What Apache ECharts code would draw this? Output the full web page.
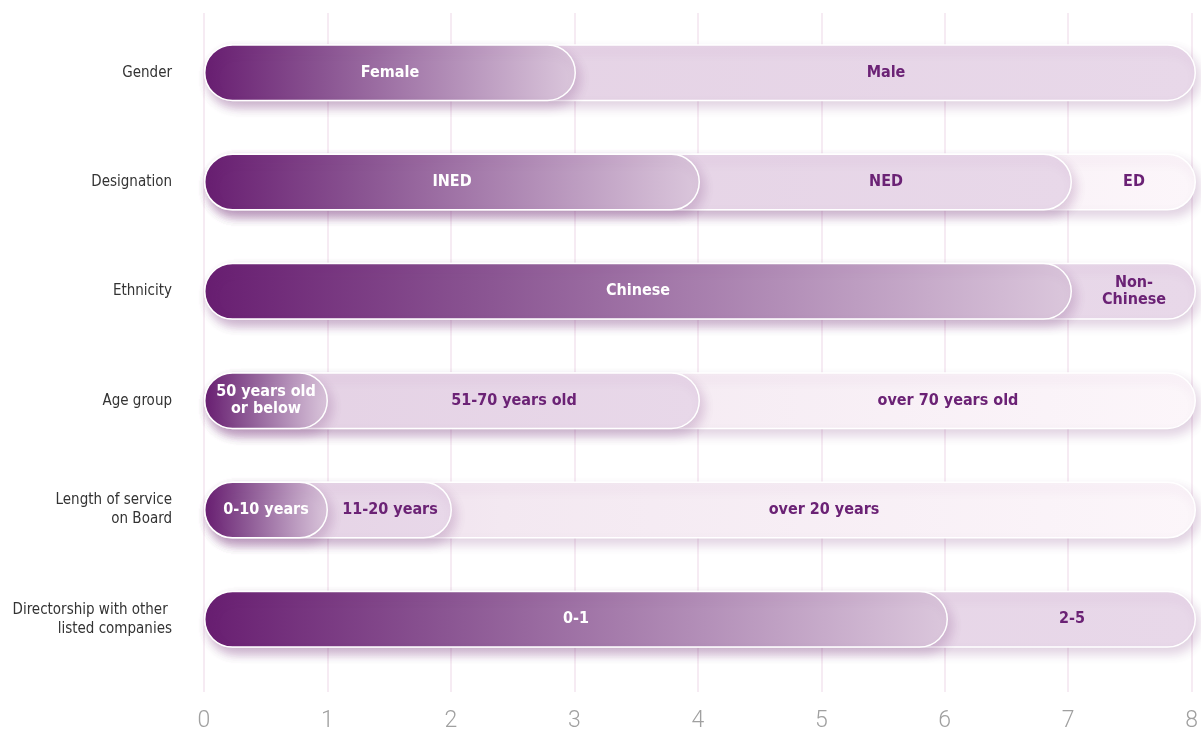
<!DOCTYPE html>
<html>
<head>
<meta charset="utf-8">
<script src="https://cdn.jsdelivr.net/npm/echarts@6/dist/echarts.min.js"></script>
<style>
html,body{margin:0;padding:0;background:#fff;}
#chart{width:1201px;height:733px;}
</style>
</head>
<body>
<div id="chart"></div>
<script>
const categories = ['Gender','Designation','Ethnicity','Age group','Length of service\non Board','Directorship with other \nlisted companies'];
const seg1 = [3, 4, 7, 1, 1, 6];
const seg2 = [5, 3, 1, 3, 1, 2];
const seg3 = [null, 1, null, 4, 6, null];
const names1 = ['Female','INED','Chinese','50 years old\nor below','0-10 years','0-1'];
const names2 = ['Male','NED','Non-\nChinese','51-70 years old','11-20 years','2-5'];
const names3 = ['','ED','','over 70 years old','over 20 years',''];
const xTicks = [0,1,2,3,4,5,6,7,8];

const segs = [seg1, seg2, seg3];
const names = [names1, names2, names3];

// cumulative ends for the overlapping pills
const cum = segs.map((s, k) => s.map((v, i) => {
  if (v == null) return '-';
  let t = 0;
  for (let j = 0; j <= k; j++) t += (segs[j][i] || 0);
  return t;
}));

const fills = [
  new echarts.graphic.LinearGradient(0,0,1,0,[
    {offset:0,color:'#681e71'},
    {offset:0.33,color:'#8b5693'},
    {offset:0.67,color:'#b38fb8'},
    {offset:1,color:'#dbc7dc'}
  ]),
  new echarts.graphic.LinearGradient(0,0,1,0,[
    {offset:0,color:'#e4d1e4'},
    {offset:1,color:'#e8d8e9'}
  ]),
  new echarts.graphic.LinearGradient(0,0,1,0,[
    {offset:0,color:'#ead8e9'},
    {offset:0.3,color:'#f3e8f1'},
    {offset:1,color:'#fcf6fa'}
  ])
];
const labelColors = ['#ffffff','#6b2275','#6b2275'];
const BAR_W = 57;
const condensed = '"DejaVu Sans Condensed","Liberation Sans Narrow",sans-serif';

const series = [];
// pills
for (let k = 0; k < 3; k++) {
  series.push({
    type:'bar', xAxisIndex:1, yAxisIndex:1,
    data: cum[k], barWidth: BAR_W, barGap:'-100%', z: 6 - k,
    silent:true,
    itemStyle:{
      color: fills[k], borderRadius: BAR_W/2,
      borderColor:'#ffffff', borderWidth:1.5,
      shadowBlur:11, shadowOffsetX:4, shadowOffsetY:6,
      shadowColor:'rgba(105,35,110,0.2)'
    }
  });
}
// labels positioned at the centre of each visible segment
for (let k = 0; k < 3; k++) {
  series.push({
    type:'bar', xAxisIndex:1, yAxisIndex:1, stack:'lbl',
    data: segs[k].map(v => v == null ? 0 : v),
    barWidth: BAR_W, barGap:'-100%', z: 20, silent:true,
    itemStyle:{color:'rgba(0,0,0,0)'},
    label:{
      show:true, position:'inside',
      formatter: p => names[k][p.dataIndex],
      color: labelColors[k], fontFamily: condensed,
      fontWeight:'bold', fontSize:16, lineHeight:17
    }
  });
}

const chart = echarts.init(document.getElementById('chart'), null, {renderer:'canvas'});
chart.setOption({
  animation:false,
  backgroundColor:'#ffffff',
  grid:[
    {left:204, right:5, top:13, bottom:40},
    {left:204, right:5, top:18, height:656}
  ],
  xAxis:[
    {gridIndex:0, type:'value', min:0, max:8, interval:1,
     axisLine:{show:false}, axisTick:{show:false},
     splitLine:{show:true, lineStyle:{color:'#f6ebf3', width:2}},
     axisLabel:{color:'#a0a0a0', fontSize:23, fontFamily:'Roboto', fontWeight:300, margin:18,
       formatter: v => String(xTicks[v])}
    },
    {gridIndex:1, type:'value', min:0, max:8, show:false}
  ],
  yAxis:[
    {gridIndex:0, type:'value', show:false},
    {gridIndex:1, type:'category', data:categories, inverse:true,
     axisLine:{show:false}, axisTick:{show:false}, splitLine:{show:false},
     axisLabel:{color:'#333333', fontSize:15, lineHeight:19, align:'right', margin:32,
       fontFamily: condensed}
    }
  ],
  series: series
});
</script>
</body>
</html>
